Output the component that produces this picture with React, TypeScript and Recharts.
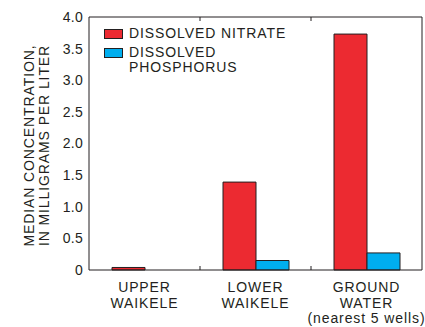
import React from "react";
import {
  Bar,
  BarChart,
  Label,
  XAxis,
  YAxis,
} from "recharts";

// Median concentrations, mg/L
const sites = ["UPPER WAIKELE", "LOWER WAIKELE", "GROUND WATER"];
const siteLabelLines = [
  ["UPPER", "WAIKELE"],
  ["LOWER", "WAIKELE"],
  ["GROUND", "WATER", "(nearest 5 wells)"],
];
const nitrate = [0.04, 1.39, 3.73];
const phosphorus = [0, 0.15, 0.27];
const yTicks = [0, 0.5, 1, 1.5, 2, 2.5, 3, 3.5, 4];
const innerTicks = [0.5, 1, 1.5, 2, 2.5, 3, 3.5];

const FONT = "'Liberation Sans', Arial, Helvetica, sans-serif";
const INK = "#231f20";
const RED = "#ec2a31";
const BLUE = "#00aeef";
const TEXT = { fontSize: 14, letterSpacing: 0.9, fontFamily: FONT };
const INNER_TICK = 4;

const chartData = sites.map((site, i) => ({
  site,
  nitrate: nitrate[i],
  phosphorus: phosphorus[i],
}));

// half a category band, used to put tick marks between sites
const halfBand = (props: any) =>
  props.payload?.offset ?? props.width / props.visibleTicksCount / 2;

// bottom axis: multi-line site name plus an inward tick at the left band edge
const SiteTick = (props: any) => {
  const { x, y, payload, index } = props;
  const lines = siteLabelLines[sites.indexOf(payload.value)] ?? [payload.value];
  const edge = x - halfBand(props);
  return (
    <g>
      {index > 0 && (
        <line x1={edge} x2={edge} y1={y} y2={y - INNER_TICK} stroke={INK} />
      )}
      <text x={x} y={y} textAnchor="middle" fill={INK} {...TEXT}>
        {lines.map((line, i) => (
          <tspan key={i} x={x} dy={i === 0 ? 22 : 15.5}>
            {line}
          </tspan>
        ))}
      </text>
    </g>
  );
};

// top frame: inward tick at the left band edge
const TopTick = (props: any) => {
  const { x, y, index } = props;
  if (index === 0) return <g />;
  const edge = x - halfBand(props);
  return <line x1={edge} x2={edge} y1={y} y2={y + INNER_TICK} stroke={INK} />;
};

// right frame: inward value ticks
const RightTick = (props: any) => {
  const { x, y } = props;
  return <line x1={x} x2={x - INNER_TICK} y1={y} y2={y} stroke={INK} />;
};

const legendRows = [
  { color: RED, lines: ["DISSOLVED NITRATE"] },
  { color: BLUE, lines: ["DISSOLVED", "PHOSPHORUS"] },
];

const LegendBox = () => (
  <div
    style={{
      position: "absolute",
      left: 104,
      top: 26,
      fontFamily: FONT,
      fontSize: 14,
      letterSpacing: 0.9,
      color: INK,
      lineHeight: "15px",
    }}
  >
    {legendRows.map((row, i) => (
      <div key={i} style={{ display: "flex", alignItems: "flex-start", marginBottom: 4 }}>
        <span
          style={{
            width: 17,
            height: 8,
            marginTop: 3,
            marginRight: 6,
            background: row.color,
            border: `1px solid ${INK}`,
            flex: "none",
          }}
        />
        <span>
          {row.lines.map((l, j) => (
            <div key={j}>{l}</div>
          ))}
        </span>
      </div>
    ))}
  </div>
);

export default function App() {
  return (
    <div style={{ position: "absolute", left: 0, top: 0, width: 425, height: 327, background: "#fff" }}>
      <BarChart
        width={425}
        height={327}
        data={chartData}
        margin={{ top: 0, right: 0, left: 0, bottom: 0 }}
        barCategoryGap={23}
        barGap={0}
      >
        <XAxis
          xAxisId="cat"
          dataKey="site"
          height={57}
          axisLine={{ stroke: INK }}
          tickLine={false}
          tickSize={0}
          tickMargin={0}
          tick={<SiteTick />}
          interval={0}
        />
        <XAxis
          xAxisId="top"
          dataKey="site"
          orientation="top"
          height={17}
          axisLine={{ stroke: INK }}
          tickLine={false}
          tickSize={0}
          tickMargin={0}
          tick={<TopTick />}
          interval={0}
        />
        <YAxis
          yAxisId="v"
          width={89}
          domain={[0, 4]}
          ticks={yTicks}
          interval={0}
          axisLine={{ stroke: INK }}
          tickLine={false}
          tickSize={0}
          tickMargin={6}
          tick={{ fill: INK, ...TEXT, letterSpacing: 0.3 }}
          tickFormatter={(v: number) => (v === 0 ? "0" : v.toFixed(1))}
        >
          <Label
            position="insideLeft"
            content={({ viewBox }: any) => {
              const cy = viewBox.y + viewBox.height / 2 + 2;
              return (
                <text
                  transform={`translate(0, ${cy}) rotate(-90)`}
                  textAnchor="middle"
                  fill={INK}
                  {...TEXT}
                >
                  <tspan x={0} y={34}>MEDIAN CONCENTRATION,</tspan>
                  <tspan x={0} y={49}>IN MILLIGRAMS PER LITER</tspan>
                </text>
              );
            }}
          />
        </YAxis>
        <YAxis
          yAxisId="r"
          orientation="right"
          width={3}
          domain={[0, 4]}
          ticks={innerTicks}
          interval={0}
          axisLine={{ stroke: INK }}
          tickLine={false}
          tickSize={0}
          tickMargin={0}
          tick={<RightTick />}
        />
        <Bar
          xAxisId="cat"
          yAxisId="v"
          dataKey="nitrate"
          name="DISSOLVED NITRATE"
          fill={RED}
          stroke={INK}
          strokeWidth={1}
          isAnimationActive={false}
        />
        <Bar
          xAxisId="cat"
          yAxisId="v"
          dataKey="phosphorus"
          name="DISSOLVED PHOSPHORUS"
          fill={BLUE}
          stroke={INK}
          strokeWidth={1}
          isAnimationActive={false}
        />
      </BarChart>
      <LegendBox />
    </div>
  );
}
